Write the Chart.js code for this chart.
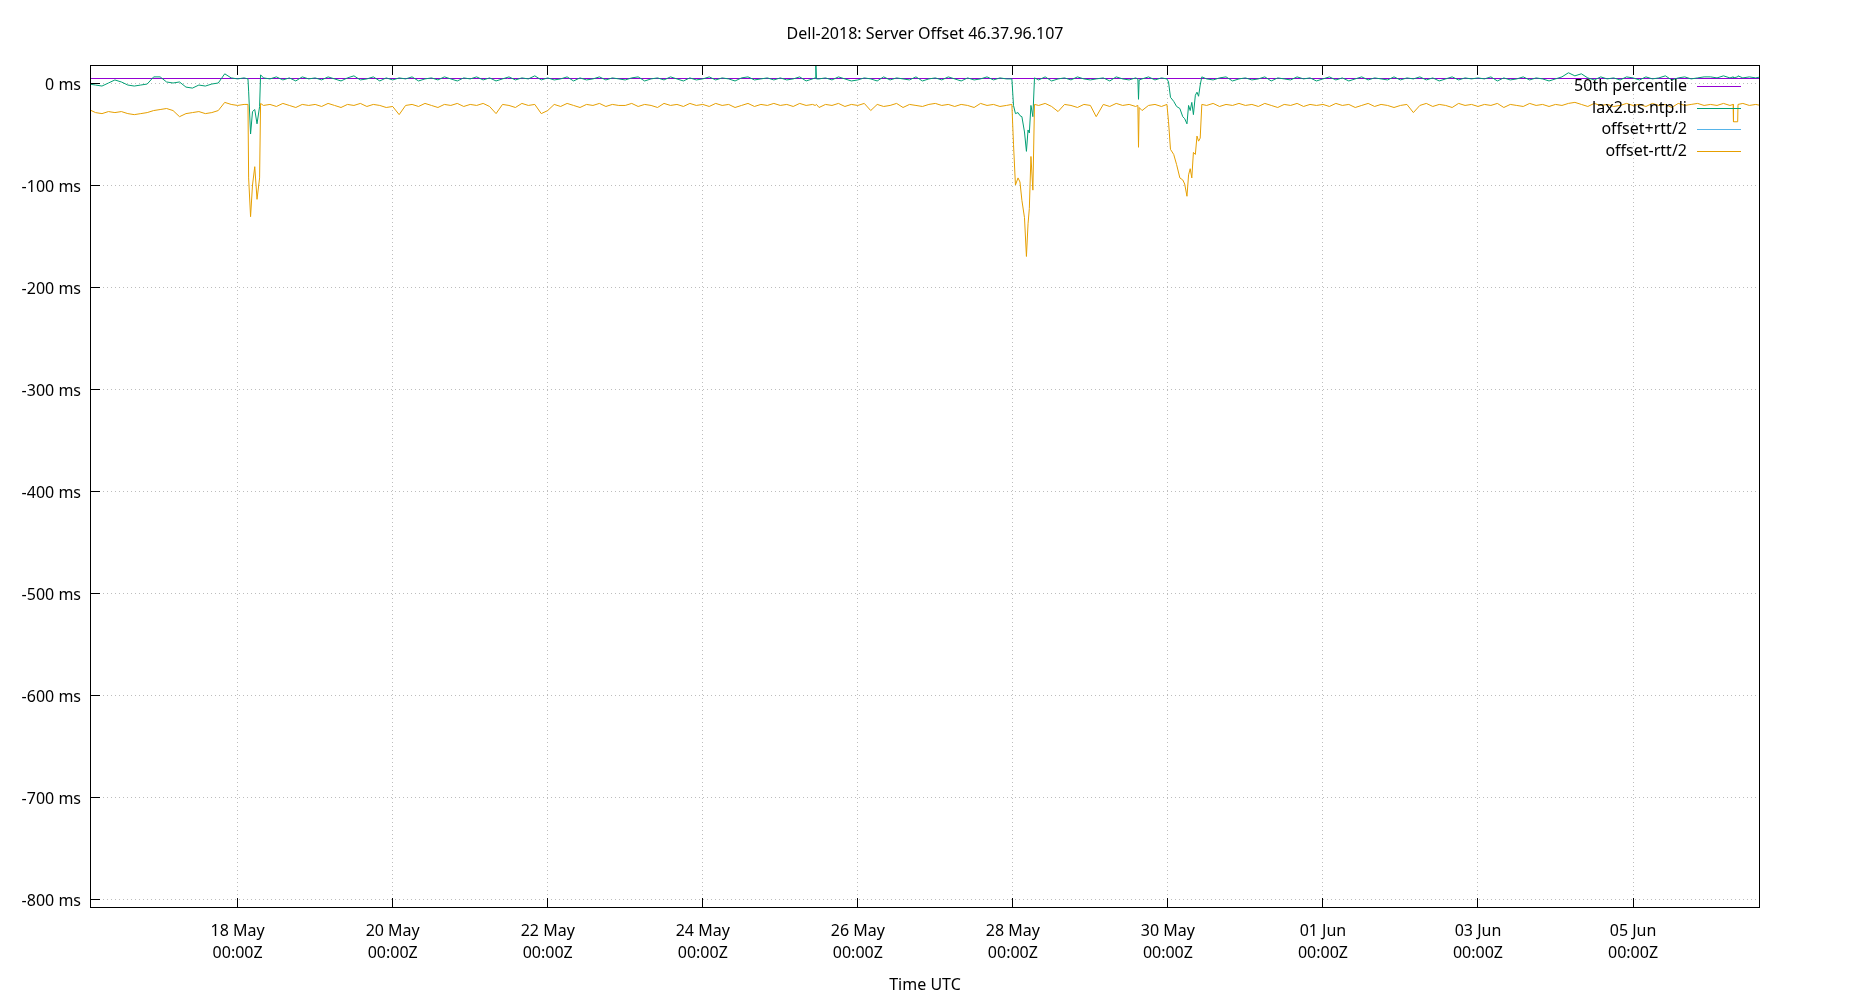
<!DOCTYPE html>
<html>
<head>
<meta charset="utf-8">
<title>Dell-2018: Server Offset 46.37.96.107</title>
<script src="https://cdn.jsdelivr.net/npm/chart.js@4.4.1/dist/chart.umd.min.js"></script>
<style>
  html, body { margin: 0; padding: 0; background: #fff; }
  canvas { display: block; }
</style>
</head>
<body>
<canvas id="offsetChart" width="1850" height="1000"></canvas>
<script>
const chartTitle = 'Dell-2018: Server Offset 46.37.96.107';
const xAxisTitle = 'Time UTC';
const seriesNames = ['50th percentile', 'lax2.us.ntp.li', 'offset+rtt/2', 'offset-rtt/2'];
const seriesColors = ['#9400d3', '#009e73', '#56b4e9', '#e69f00'];

// x values are hours since 16 May 2018 00:00Z
const xTickHours = [48, 96, 144, 192, 240, 288, 336, 384, 432, 480];
const xTickLabels = [
  ['18 May', '00:00Z'], ['20 May', '00:00Z'], ['22 May', '00:00Z'],
  ['24 May', '00:00Z'], ['26 May', '00:00Z'], ['28 May', '00:00Z'],
  ['30 May', '00:00Z'], ['01 Jun', '00:00Z'], ['03 Jun', '00:00Z'],
  ['05 Jun', '00:00Z'],
];
const yTickMs = [0, -100, -200, -300, -400, -500, -600, -700, -800];
const yTickLabels = ['0 ms', '-100 ms', '-200 ms', '-300 ms', '-400 ms', '-500 ms', '-600 ms', '-700 ms', '-800 ms'];

const xMinHour = 2.6;
const xMaxHour = 519.0;
const yMinMs = -807.5;
const yMaxMs = 16.66;

const p50Hours = [2, 520];
const p50Ms = [4.4, 4.4];

// one line per day
const sampleHours = [
  2, 4, 6, 8, 10, 12, 14, 16, 18, 20, 22,
  24, 26, 28, 30, 32, 34, 36, 38, 40, 42, 44, 46,
  48, 50, 51.2, 51.4, 52, 52.6, 53.3, 54, 54.8, 55.1, 56, 58, 60, 62, 64, 66, 68, 70,
  72, 74, 76, 78, 80, 82, 84, 86, 88, 90, 92, 94,
  96, 98, 100, 102, 104, 106, 108, 110, 112, 114, 116, 118,
  120, 122, 124, 126, 128, 130, 132, 134, 136, 138, 140, 142,
  144, 146, 148, 150, 152, 154, 156, 158, 160, 162, 164, 166,
  168, 170, 172, 174, 176, 178, 180, 182, 184, 186, 188, 190,
  192, 194, 196, 198, 200, 202, 204, 206, 208, 210, 212, 214,
  216, 218, 220, 222, 224, 226, 226.8, 227, 227.2, 228, 230, 232, 234, 236, 238,
  240, 242, 244, 246, 248, 250, 252, 254, 256, 258, 260, 262,
  264, 266, 268, 270, 272, 274, 276, 278, 280, 282, 284, 286,
  287.7, 288.2, 288.8, 289.6, 290.2, 290.8, 291.6, 292.2, 292.7, 293.1, 293.6, 294.2, 294.7, 296, 298, 300, 302, 304, 306, 308, 310,
  312, 313.8, 316, 318, 320, 322, 324, 326, 326.7, 326.9, 327.1, 328, 330, 332, 334,
  335.7, 336.2, 336.8, 337.8, 338.7, 339.7, 340.6, 341.2, 341.9, 342.4, 342.9, 343.4, 343.9, 344.5, 345, 345.5, 346, 346.5, 348, 350, 352, 354, 356, 358,
  360, 362, 364, 366, 368, 370, 372, 374, 376, 378, 380, 382,
  384, 386, 388, 390, 392, 394, 396, 398, 400, 402, 404, 406,
  408, 410, 412, 414, 416, 418, 420, 422, 424, 426, 428, 430,
  432, 434, 436, 438, 440, 442, 444, 446, 448, 450, 452, 454,
  456, 458, 460, 462, 464, 466, 468, 470, 472, 474, 476, 478,
  480, 482, 484, 486, 488, 490, 492, 494, 496, 498, 500, 502,
  504, 506, 508, 510, 511, 511.1, 512.4, 512.5, 514, 516, 518, 519.5,
];

const offsetMs = [
  -1, -2, -3, 0, 3, 1, -2, -3, -2, -1, 6,
  6, 1, 0, 1, -4, -5, -2, -3, -1, 0, 9, 5,
  4, 5, 4, -8, -50, -28, -26, -40, -23, 8, 5, 4, 6, 3, 5, 2, 6, 4,
  5, 3, 6, 4, 2, 5, 7, 3, 4, 6, 2, 5,
  3, 5, 4, 6, 2, 4, 5, 3, 6, 4, 2, 5,
  4, 6, 3, 5, 2, 4, 6, 3, 5, 4, 7, 3,
  5, 3, 4, 6, 2, 5, 3, 4, 6, 3, 5, 4,
  3, 5, 6, 2, 4, 5, 3, 6, 4, 2, 5, 3,
  4, 6, 3, 5, 4, 2, 5, 6, 3, 4, 5, 3,
  5, 3, 4, 6, 2, 4, 5, 19, 4, 4, 5, 3, 6, 4, 2,
  3, 5, 4, 2, 6, 3, 5, 4, 3, 6, 2, 4,
  5, 3, 6, 4, 2, 5, 3, 4, 6, 3, 5, 4,
  4, -22, -30, -29, -32, -33, -48, -67, -46, -49, -22, -33, 5, 3, 6, 2, 4, 5, 3, 6, 4,
  3, 4, 5, 2, 6, 4, 3, 5, 4, -16, 3, 4, 6, 3, 5,
  4, 1, -14, -18, -23, -25, -33, -35, -40, -22, -27, -19, -31, -12, -9, -13, -2, 6, 4, 3, 5, 6, 2, 4,
  5, 3, 4, 6, 2, 5, 4, 3, 6, 4, 5, 2,
  4, 6, 3, 5, 2, 4, 6, 3, 5, 4, 3, 6,
  3, 5, 4, 6, 3, 5, 2, 4, 6, 3, 5, 4,
  5, 4, 6, 2, 5, 3, 4, 6, 3, 5, 4, 2,
  4, 6, 10, 7, 9, 5, 3, 6, 4, 5, 3, 6,
  5, 3, 6, 4, 5, 7, 3, 5, 6, 4, 5, 6,
  6, 5, 7, 5, 6, 5, 6, 7, 5, 6, 5, 6,
];

const lowMs = [
  -26, -29, -30, -28, -29, -28, -30, -31, -30, -29, -27,
  -26, -25, -27, -33, -30, -29, -28, -30, -29, -27, -19, -21,
  -22, -21, -21, -93, -131, -100, -82, -114, -93, -20, -22, -21, -23, -20, -22, -24, -21, -22,
  -21, -23, -20, -22, -24, -21, -22, -20, -23, -21, -22, -24,
  -23, -31, -22, -21, -23, -20, -22, -24, -21, -22, -20, -23,
  -21, -22, -20, -23, -30, -21, -22, -24, -20, -22, -21, -30,
  -27, -21, -23, -20, -22, -24, -21, -22, -20, -23, -21, -22,
  -22, -20, -23, -21, -22, -24, -20, -22, -21, -23, -20, -22,
  -21, -23, -20, -22, -21, -24, -22, -20, -23, -21, -22, -20,
  -22, -21, -23, -20, -22, -21, -22, -22, -21, -24, -21, -22, -20, -23, -21,
  -22, -20, -27, -21, -23, -22, -20, -24, -21, -22, -23, -21,
  -20, -22, -21, -23, -21, -22, -24, -20, -22, -21, -23, -22,
  -21, -60, -100, -93, -97, -115, -132, -170, -138, -123, -72, -105, -21, -22, -20, -23, -28, -21, -22, -24, -21,
  -22, -33, -21, -23, -20, -22, -21, -23, -22, -63, -24, -27, -22, -21, -23,
  -21, -38, -65, -70, -80, -93, -95, -99, -111, -90, -84, -93, -68, -70, -52, -57, -54, -21, -22, -20, -23, -21, -22, -20,
  -22, -21, -23, -20, -22, -24, -21, -22, -20, -23, -21, -22,
  -21, -23, -20, -22, -21, -24, -22, -20, -23, -21, -22, -24,
  -22, -21, -29, -22, -20, -23, -21, -22, -24, -20, -22, -21,
  -23, -21, -22, -20, -24, -21, -22, -23, -20, -22, -21, -23,
  -21, -22, -20, -19, -21, -23, -20, -22, -21, -23, -22, -20,
  -22, -21, -23, -20, -22, -21, -24, -20, -22, -21, -20, -22,
  -21, -22, -20, -22, -21, -38, -38, -21, -20, -22, -21, -22,
];

// offset+rtt/2 sits above the top of the y range, as in the original
const highHours = [2, 48, 96, 144, 192, 240, 288, 336, 384, 432, 480, 520];
const highMs = [27, 29, 28, 30, 27, 29, 31, 28, 30, 27, 29, 28];

const toPoints = (hours, values) => hours.map((h, i) => ({ x: h, y: values[i] }));

const fontFamily = '"Noto Sans", "Open Sans", sans-serif';
Chart.defaults.font.family = fontFamily;
Chart.defaults.font.size = 16;
Chart.defaults.color = '#000';

const gnuplotFrame = {
  id: 'gnuplotFrame',
  beforeDatasetsDraw: (chart) => {
    const { ctx, chartArea: area, scales } = chart;
    ctx.save();
    ctx.strokeStyle = '#bdbdbd';
    ctx.lineWidth = 1;
    ctx.setLineDash([1, 3]);
    xTickHours.forEach((h) => {
      const px = Math.floor(scales.x.getPixelForValue(h)) + 0.5;
      ctx.beginPath();
      ctx.moveTo(px, area.top);
      ctx.lineTo(px, area.bottom);
      ctx.stroke();
    });
    yTickMs.forEach((v) => {
      const py = Math.floor(scales.y.getPixelForValue(v)) + 0.5;
      ctx.beginPath();
      ctx.moveTo(area.left, py);
      ctx.lineTo(area.right, py);
      ctx.stroke();
    });
    ctx.restore();
  },
  afterDatasetsDraw: (chart) => {
    const { ctx, chartArea: area, scales } = chart;
    ctx.save();
    ctx.strokeStyle = '#000';
    ctx.lineWidth = 1;
    ctx.strokeRect(area.left - 0.5, area.top - 0.5, area.width + 1, area.height + 1);

    const tickLen = 9;
    ctx.beginPath();
    xTickHours.forEach((h) => {
      const px = Math.floor(scales.x.getPixelForValue(h)) + 0.5;
      ctx.moveTo(px, area.bottom);
      ctx.lineTo(px, area.bottom - tickLen);
      ctx.moveTo(px, area.top);
      ctx.lineTo(px, area.top + tickLen);
    });
    yTickMs.forEach((v) => {
      const py = Math.floor(scales.y.getPixelForValue(v)) + 0.5;
      ctx.moveTo(area.left, py);
      ctx.lineTo(area.left + tickLen, py);
    });
    ctx.stroke();

    // key, text on the left of the sample line
    ctx.font = '16px ' + fontFamily;
    ctx.textAlign = 'right';
    ctx.textBaseline = 'middle';
    const keyRows = [86.5, 108, 129.5, 151];
    seriesNames.forEach((name, i) => {
      const y = keyRows[i];
      ctx.fillStyle = '#000';
      ctx.fillText(name, 1687, y);
      ctx.strokeStyle = seriesColors[i];
      ctx.beginPath();
      ctx.moveTo(1697, Math.floor(y) + 0.5);
      ctx.lineTo(1741, Math.floor(y) + 0.5);
      ctx.stroke();
    });

    const midX = (area.left + area.right) / 2;
    ctx.textAlign = 'center';
    ctx.fillText(chartTitle, midX, 34);
    ctx.fillText(xAxisTitle, midX, 985);
    ctx.restore();
  },
};

const lineStyle = (i, order) => ({
  label: seriesNames[i],
  borderColor: seriesColors[i],
  backgroundColor: seriesColors[i],
  borderWidth: 1,
  pointRadius: 0,
  tension: 0,
  fill: false,
  order: order,
});

const renderOffsetChart = () => {
  const ctx = document.getElementById('offsetChart').getContext('2d');
  new Chart(ctx, {
    type: 'line',
    data: {
      datasets: [
        { ...lineStyle(0, 4), data: toPoints(p50Hours, p50Ms) },
        { ...lineStyle(1, 3), data: toPoints(sampleHours, offsetMs) },
        { ...lineStyle(2, 2), data: toPoints(highHours, highMs) },
        { ...lineStyle(3, 1), data: toPoints(sampleHours, lowMs) },
      ],
    },
    options: {
      responsive: false,
      animation: false,
      parsing: false,
      layout: { padding: { top: 66, right: 91, bottom: 0, left: 0 } },
      plugins: {
        legend: { display: false },
        tooltip: { enabled: false },
        title: { display: false },
      },
      scales: {
        x: {
          type: 'linear',
          min: xMinHour,
          max: xMaxHour,
          afterFit: (scale) => { scale.height = 93; },
          afterBuildTicks: (scale) => { scale.ticks = xTickHours.map((v) => ({ value: v })); },
          grid: { display: false, drawTicks: false },
          border: { display: false },
          ticks: {
            autoSkip: false,
            maxRotation: 0,
            padding: 13,
            font: { size: 16, lineHeight: 1.38 },
            color: '#000',
            callback: (value) => xTickLabels[xTickHours.indexOf(value)],
          },
        },
        y: {
          type: 'linear',
          min: yMinMs,
          max: yMaxMs,
          afterFit: (scale) => { scale.width = 91; },
          afterBuildTicks: (scale) => { scale.ticks = yTickMs.map((v) => ({ value: v })); },
          grid: { display: false, drawTicks: false },
          border: { display: false },
          ticks: {
            padding: 10,
            labelOffset: 2.5,
            font: { size: 16 },
            color: '#000',
            callback: (value) => yTickLabels[yTickMs.indexOf(value)],
          },
        },
      },
    },
    plugins: [gnuplotFrame],
  });
};

renderOffsetChart();
</script>
</body>
</html>
